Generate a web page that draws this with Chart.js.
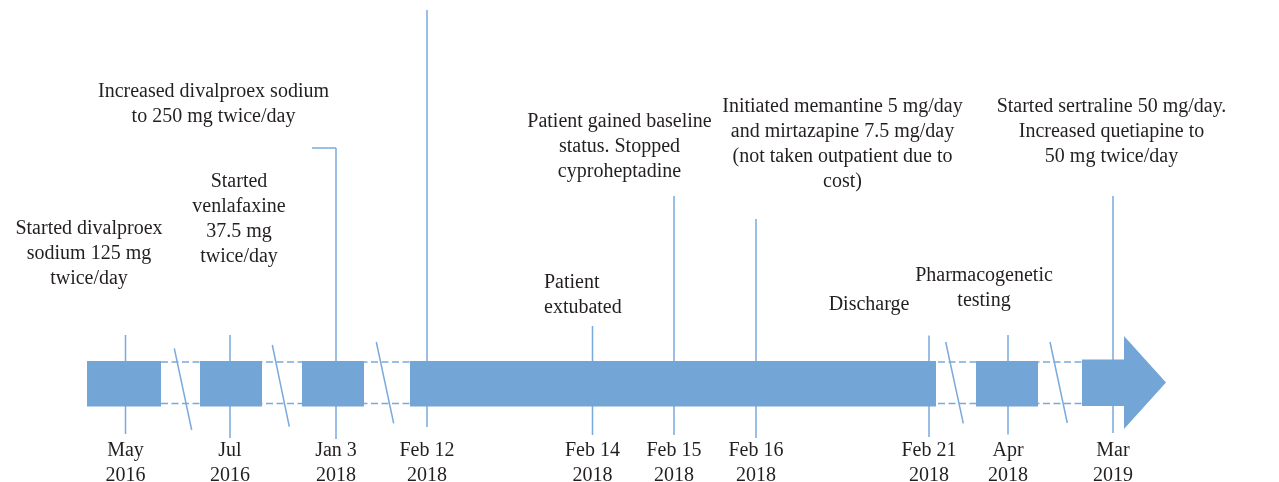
<!DOCTYPE html>
<html>
<head>
<meta charset="utf-8">
<script src="https://cdn.jsdelivr.net/npm/chart.js@4.4.1/dist/chart.umd.min.js"></script>
<style>
  html, body { margin: 0; padding: 0; background: #ffffff; }
  #wrap { width: 1279px; height: 482px; position: relative; }
</style>
</head>
<body>
<div id="wrap"><canvas id="c"></canvas></div>
<script>
// ---------- DATA (timeline units along the axis) ----------
const dateLabels = [
  ["May", "2016"], ["Jul", "2016"], ["Jan 3", "2018"], ["Feb 12", "2018"],
  ["Feb 14", "2018"], ["Feb 15", "2018"], ["Feb 16", "2018"],
  ["Feb 21", "2018"], ["Apr", "2018"], ["Mar", "2019"]
];
const eventPos    = [125.5, 230, 336, 427, 592.5, 674, 756, 929, 1008, 1113];
const stemTop     = [335, 335, 148, 10, 326, 196, 219, 335.5, 335, 196];
const stemBottom  = [434, 438, 439, 427, 435, 435, 438, 437, 434.5, 433];

const segStart = [87, 200, 302, 410, 976, 1082];
const segEnd   = [161, 262, 364, 936, 1038, 1124];
const bandTop = 361, bandBottom = 406.5;
const arrowHead = { start: 1124, tip: 1166, top: 336, bottom: 429, mid: 382.5 };

const railY = [362, 403.5];
const railFrom = 161, railTo = 1082;

const breakX1 = [174.3, 272.3, 376.3, 945.7, 1050];
const breakX2 = [191.7, 289.3, 393.7, 963.3, 1067.3];
const breakY1 = [348.3, 345, 342, 342, 342];
const breakY2 = [430, 426.7, 423.3, 423.3, 423];

const bracketX = [312, 336], bracketY = 148;

const noteTexts = [
  ["Started divalproex", "sodium 125 mg", "twice/day"],
  ["Started", "venlafaxine", "37.5 mg", "twice/day"],
  ["Increased divalproex sodium", "to 250 mg twice/day"],
  ["Patient", "extubated"],
  ["Patient gained baseline", "status. Stopped", "cyproheptadine"],
  ["Initiated memantine 5 mg/day", "and mirtazapine 7.5 mg/day", "(not taken outpatient due to", "cost)"],
  ["Discharge"],
  ["Pharmacogenetic", "testing"],
  ["Started sertraline 50 mg/day.", "Increased quetiapine to", "50 mg twice/day"]
];
const noteX     = [89, 239, 213.5, 544, 619.5, 842.5, 869, 984, 1111.5];
const noteY     = [234, 187, 97, 288, 127, 112, 310, 281, 112];
const noteAlign = ["center", "center", "center", "left", "center", "center", "center", "center", "center"];
const dateY = 456;

// ---------- STYLE ----------
const FILL = "rgb(115,165,214)";
const LINE = "rgb(122,169,219)";
const TEXT = "#231f20";
const FONT = "20px 'Liberation Serif', 'Times New Roman', serif";
const LINE_H = 25;

// ---------- DATASETS ----------
const datasets = [];
// blocks (on top)
segStart.forEach((s, i) => {
  let pts;
  if (i === segStart.length - 1) {
    pts = [
      {x: s, y: bandTop - 1.5}, {x: arrowHead.start, y: bandTop - 1.5},
      {x: arrowHead.start, y: arrowHead.top}, {x: arrowHead.tip, y: arrowHead.mid},
      {x: arrowHead.start, y: arrowHead.bottom}, {x: arrowHead.start, y: bandBottom - 0.5},
      {x: s, y: bandBottom - 0.5}, {x: s, y: bandTop - 1.5}
    ];
  } else {
    pts = [
      {x: s, y: bandTop}, {x: segEnd[i], y: bandTop}, {x: segEnd[i], y: bandBottom},
      {x: s, y: bandBottom}, {x: s, y: bandTop}
    ];
  }
  datasets.push({
    data: pts, fill: 'shape', backgroundColor: FILL,
    borderColor: 'rgba(0,0,0,0)', borderWidth: 1, pointRadius: 0, tension: 0
  });
});
// break slashes
breakX1.forEach((x1, i) => {
  datasets.push({
    data: [{x: x1, y: breakY1[i]}, {x: breakX2[i], y: breakY2[i]}],
    borderColor: LINE, borderWidth: 1.5, pointRadius: 0, fill: false
  });
});
// dashed rails
railY.forEach(y => {
  datasets.push({
    data: [{x: railFrom, y: y}, {x: railTo, y: y}],
    borderColor: LINE, borderWidth: 1.6, borderDash: [7, 3.5], pointRadius: 0, fill: false
  });
});
// stems
eventPos.forEach((x, i) => {
  datasets.push({
    data: [{x: x, y: stemTop[i]}, {x: x, y: stemBottom[i]}],
    borderColor: LINE, borderWidth: 1.5, pointRadius: 0, fill: false
  });
});
// bracket for the Jan 3 note
datasets.push({
  data: [{x: bracketX[0], y: bracketY}, {x: bracketX[1], y: bracketY}],
  borderColor: LINE, borderWidth: 1.5, pointRadius: 0, fill: false
});

// ---------- TEXT PLUGIN ----------
const textPlugin = {
  id: 'timelineText',
  afterDatasetsDraw(chart) {
    const {ctx, scales: {x, y}} = chart;
    ctx.save();
    ctx.font = FONT;
    ctx.fillStyle = TEXT;
    ctx.textBaseline = 'alphabetic';
    noteTexts.forEach((lines, i) => {
      ctx.textAlign = noteAlign[i];
      const px = x.getPixelForValue(noteX[i]);
      const py = y.getPixelForValue(noteY[i]);
      lines.forEach((t, k) => ctx.fillText(t, px, py + k * LINE_H));
    });
    ctx.textAlign = 'center';
    dateLabels.forEach((lines, i) => {
      const px = x.getPixelForValue(eventPos[i]);
      const py = y.getPixelForValue(dateY);
      lines.forEach((t, k) => ctx.fillText(t, px, py + k * LINE_H));
    });
    ctx.restore();
  }
};

new Chart(document.getElementById('c'), {
  type: 'line',
  data: { datasets },
  options: {
    responsive: true,
    maintainAspectRatio: false,
    animation: false,
    events: [],
    layout: { padding: 0 },
    parsing: true,
    plugins: { legend: { display: false }, tooltip: { enabled: false }, title: { display: false } },
    scales: {
      x: { type: 'linear', min: 0, max: 1279, display: false },
      y: { type: 'linear', min: 0, max: 482, reverse: true, display: false }
    }
  },
  plugins: [textPlugin]
});
</script>
</body>
</html>
